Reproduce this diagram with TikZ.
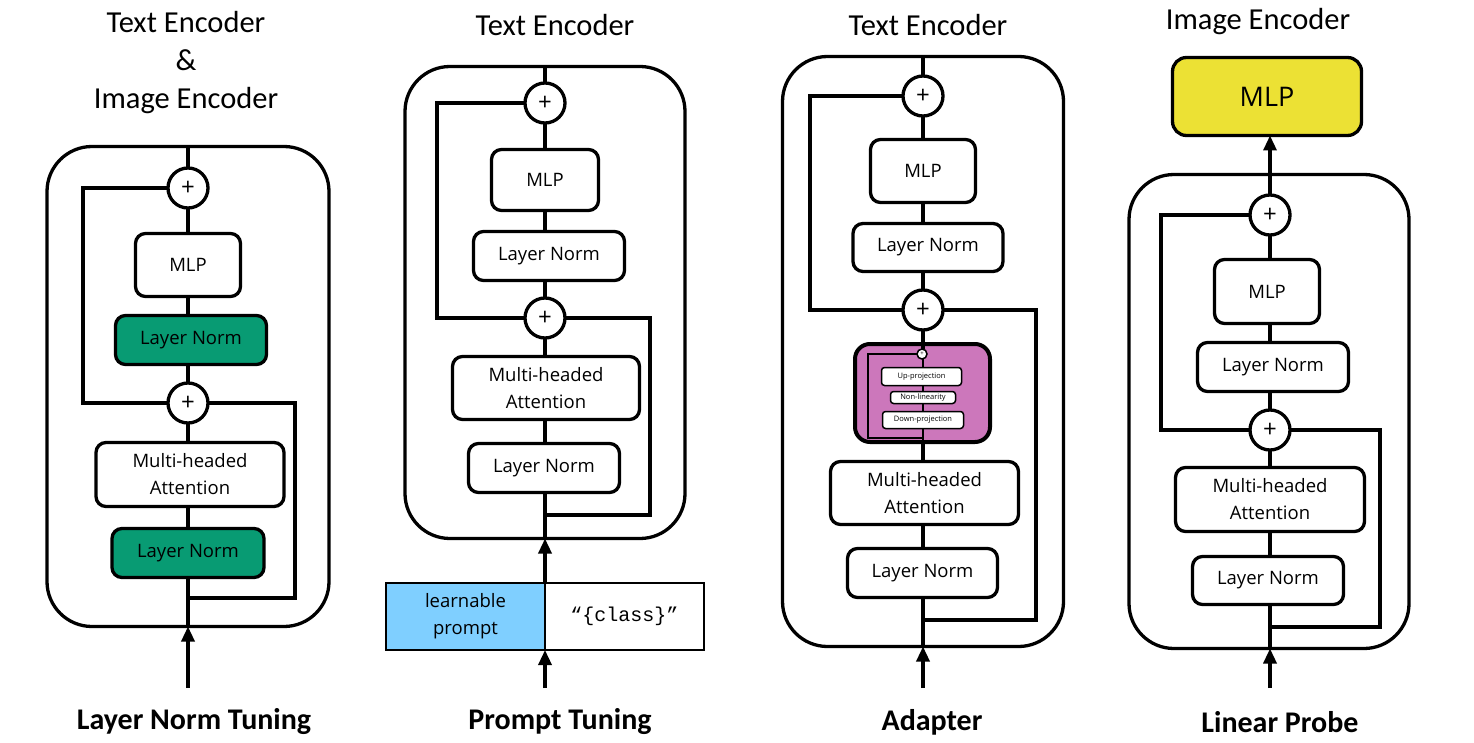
\documentclass[tikz,border=0pt]{standalone}
\usepackage{fontspec}
\setmainfont{Carlito}
\newfontfamily\boxfont{Open Sans}
\newfontfamily\codefont{Liberation Mono}
\usetikzlibrary{arrows.meta}
\definecolor{lngreen}{RGB}{8,155,115}
\definecolor{promptblue}{RGB}{127,207,255}
\definecolor{adaptpurple}{RGB}{204,119,187}
\definecolor{probeyellow}{RGB}{236,225,52}
\tikzset{
  wire/.style={line width=3.3pt},
  thinwire/.style={line width=1.8pt},
  arr/.style={line width=3.3pt,-{Triangle[width=13pt,length=15pt]}},
  sz/.style 2 args={minimum width=#1pt,minimum height=#2pt},
  encoder/.style={draw,line width=3.3pt,rounded corners=45pt,outer sep=0pt},
  blk/.style={draw,line width=3.3pt,rounded corners=10pt,fill=white,align=center,
    inner sep=0pt,outer sep=0pt,font=\boxfont\fontsize{18.5}{27}\selectfont},
  sum/.style={draw,circle,line width=3.3pt,fill=white,minimum size=40pt,inner sep=0pt,
    outer sep=0pt,font=\boxfont\fontsize{24}{24}\selectfont},
  tinyblk/.style={draw,line width=1.5pt,rounded corners=3pt,fill=white,inner sep=0pt,
    outer sep=0pt,font=\boxfont\fontsize{7.5}{8}\selectfont},
  tinysum/.style={draw,circle,line width=1.5pt,fill=white,minimum size=10pt,inner sep=0pt,
    outer sep=0pt,font=\boxfont\fontsize{6}{6}\selectfont},
  title/.style={align=center,font=\fontsize{30.5}{38}\selectfont},
  caption/.style={font=\bfseries\fontsize{30}{34}\selectfont},
}
\begin{document}
\begin{tikzpicture}[x=1pt,y=-1pt]
\useasboundingbox (0,0) rectangle (1474,743);

% layer norm tuning
\node[title] (t1) at (186,63) {Text Encoder\\\&\\Image Encoder};
\node[encoder,sz={282}{480}] (enc1) at (188,386.5) {};
\node[sum] (s1b) at (188,188) {+};
\node[blk,sz={105}{63}] (mlp1) at (188,265) {MLP};
\node[blk,sz={151}{49},fill=lngreen] (ln1b) at (191,340) {Layer Norm};
\node[sum] (s1a) at (188,403) {+};
\node[blk,sz={188}{64}] (mha1) at (190,474.5) {Multi-headed\\Attention};
\node[blk,sz={152}{49},fill=lngreen] (ln1a) at (188,553) {Layer Norm};
\coordinate (in1) at (188,688);
\draw[wire] (enc1.south) -- (ln1a.south -| enc1.south);
\draw[wire] (ln1a.north -| s1a) -- (mha1.south -| s1a);
\draw[wire] (mha1.north -| s1a) -- (s1a);
\draw[wire] (s1a) -- (ln1b.south -| s1a);
\draw[wire] (ln1b.north -| s1a) -- (mlp1);
\draw[wire] (mlp1) -- (s1b) -- (s1b |- enc1.north);
\draw[wire] (s1a.west) -- ++(-85,0) |- (s1b.west);
\draw[wire] (s1a.east) -- ++(87,0) -- ++(0,195) -| (enc1.south);
\draw[arr] (in1) -- (enc1.south);
\node[caption] (c1) at (194,722) {Layer Norm Tuning};

% prompt tuning
\node[title] (t2) at (555,25) {Text Encoder};
\node[encoder,sz={280}{472}] (enc2) at (545,302.5) {};
\node[sum] (s2b) at (545,103) {+};
\node[blk,sz={107}{61}] (mlp2) at (545,180) {MLP};
\node[blk,sz={151}{49}] (ln2b) at (549,256) {Layer Norm};
\node[sum] (s2a) at (545,318) {+};
\node[blk,sz={187}{63}] (mha2) at (546,388) {Multi-headed\\Attention};
\node[blk,sz={151}{49}] (ln2a) at (544,468) {Layer Norm};
\node[blk,line width=2pt,rounded corners=0pt,sz={159}{67},fill=promptblue] (lp) at (465.5,616.5) {learnable\\prompt};
\node[blk,line width=2pt,rounded corners=0pt,sz={159}{67},font=\codefont\fontsize{20}{24}\selectfont] (cls) at (624.5,616.5) {“\{class\}”};
\coordinate (in2) at (545,688);
\draw[wire] (enc2.south) -- (ln2a.south -| enc2.south);
\draw[wire] (ln2a.north -| s2a) -- (mha2.south -| s2a);
\draw[wire] (mha2.north -| s2a) -- (s2a);
\draw[wire] (s2a) -- (ln2b.south -| s2a);
\draw[wire] (ln2b.north -| s2a) -- (mlp2);
\draw[wire] (mlp2) -- (s2b) -- (s2b |- enc2.north);
\draw[wire] (s2a.west) -- ++(-88,0) |- (s2b.west);
\draw[wire] (s2a.east) -- ++(85,0) -- ++(0,197) -| (enc2.south);
\draw[arr] (lp.north east) -- (enc2.south);
\draw[arr] (in2) -- (lp.south east);
\node[caption] (c2) at (560,722) {Prompt Tuning};

% adapter
\node[title] (t3) at (928,25) {Text Encoder};
\node[encoder,sz={281}{590}] (enc3) at (923,351.5) {};
\node[sum] (s3b) at (923,96) {+};
\node[blk,sz={105}{63}] (mlp3) at (923,171) {MLP};
\node[blk,sz={150}{48}] (ln3b) at (928,247.5) {Layer Norm};
\node[sum] (s3a) at (923,310) {+};
\node[blk,line width=4pt,rounded corners=15pt,sz={135}{98},fill=adaptpurple] (adp) at (922.5,393) {};
\node[tinysum] (s3c) at (922,354) {+};
\node[tinyblk,sz={80}{18}] (up) at (921.5,376.5) {Up-projection};
\node[tinyblk,sz={65}{12}] (nl) at (923,397.5) {Non-linearity};
\node[tinyblk,sz={81}{17}] (dn) at (923,420) {Down-projection};
\node[blk,sz={188}{63}] (mha3) at (924.5,493) {Multi-headed\\Attention};
\node[blk,sz={150}{49}] (ln3a) at (922.5,573) {Layer Norm};
\coordinate (in3) at (923,688);
\draw[wire] (enc3.south) -- (ln3a.south -| enc3.south);
\draw[wire] (ln3a.north -| s3a) -- (mha3.south -| s3a);
\draw[wire] (mha3.north -| s3a) -- (adp.south -| s3a);
\draw[thinwire] (adp.south -| s3a) -- (dn.south -| s3a);
\draw[thinwire] (dn.north -| s3a) -- (nl.south -| s3a);
\draw[thinwire] (nl.north -| s3a) -- (up.south -| s3a);
\draw[thinwire] (up.north -| s3a) -- (s3c.south -| s3a);
\draw[wire] (s3c.north -| s3a) -- (s3a);
\draw[wire] (s3a) -- (ln3b.south -| s3a);
\draw[wire] (ln3b.north -| s3a) -- (mlp3);
\draw[wire] (mlp3) -- (s3b) -- (s3b |- enc3.north);
\draw[thinwire] (s3c.west) -- ++(-49,0) -- ++(0,84) -- ++(55,0);
\draw[wire] (s3a.west) -- ++(-93,0) |- (s3b.west);
\draw[wire] (s3a.east) -- ++(93,0) -- ++(0,310) -| (enc3.south);
\draw[arr] (in3) -- (enc3.south);
\node[caption] (c3) at (932,722) {Adapter};

% linear probe
\node[title] (t4) at (1258,22) {Image Encoder};
\node[blk,sz={189}{78},fill=probeyellow,rounded corners=14pt,font=\boxfont\fontsize{27}{30}\selectfont] (head) at (1267,96.5) {MLP};
\node[encoder,sz={280}{474}] (enc4) at (1269,411.5) {};
\node[sum] (s4b) at (1270,215) {+};
\node[blk,sz={105}{64}] (mlp4) at (1267,291.5) {MLP};
\node[blk,sz={151}{49}] (ln4b) at (1273,367) {Layer Norm};
\node[sum] (s4a) at (1270,430) {+};
\node[blk,sz={189}{64}] (mha4) at (1270,499.5) {Multi-headed\\Attention};
\node[blk,sz={151}{48}] (ln4a) at (1268,580.5) {Layer Norm};
\coordinate (in4) at (1270,688);
\draw[wire] (enc4.south -| s4a) -- (ln4a.south -| s4a);
\draw[wire] (ln4a.north -| s4a) -- (mha4.south -| s4a);
\draw[wire] (mha4.north -| s4a) -- (s4a);
\draw[wire] (s4a) -- (ln4b.south -| s4a);
\draw[wire] (ln4b.north -| s4a) -- (mlp4.south -| s4a);
\draw[wire] (mlp4.north -| s4a) -- (s4b);
\draw[arr] (s4b) -- (head.south -| s4b);
\draw[wire] (s4a.west) -- ++(-89,0) |- (s4b.west);
\draw[wire] (s4a.east) -- ++(90,0) -- ++(0,197) -| (enc4.south -| s4a);
\draw[arr] (in4) -- (enc4.south -| s4a);
\node[caption] (c4) at (1280,722) {Linear Probe};
\end{tikzpicture}
\end{document}
